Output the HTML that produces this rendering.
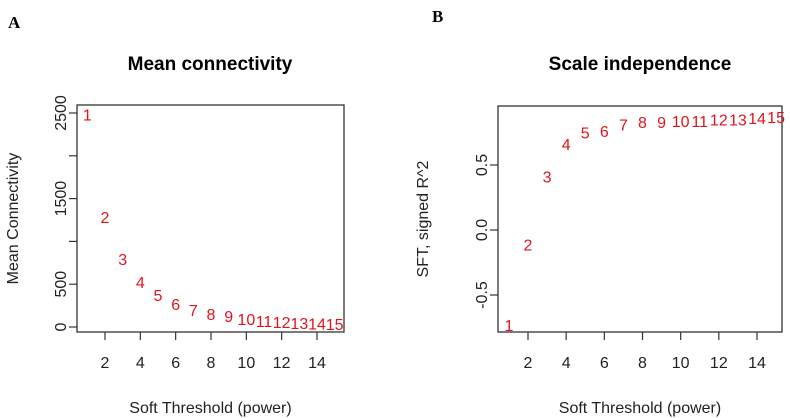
<!DOCTYPE html>
<html><head><meta charset="utf-8"><style>
body{margin:0;background:#fff;}
svg{display:block;font-family:"Liberation Sans",Arial,sans-serif;}
</style></head><body>
<svg id="c" width="790" height="418" viewBox="0 0 790 418"></svg>
<script>
const powers=[1,2,3,4,5,6,7,8,9,10,11,12,13,14,15];
const meanK=[2480,1285,794,525,374,269,199,152,128,93,70,58,47,40,35];
const sftR2=[-0.73,-0.11,0.41,0.66,0.75,0.76,0.81,0.83,0.83,0.84,0.84,0.85,0.85,0.86,0.87];
const xTicks=[2,4,6,8,10,12,14];
const yTicksA=[0,500,1000,1500,2000,2500];
const yLabelsA=["0","500","","1500","","2500"];
const yTicksB=[-0.5,0,0.5];
const yLabelsB=["-0.5","0.0","0.5"];
const NS="http://www.w3.org/2000/svg";
const svg=document.getElementById('c');
function el(t,a,txt){const e=document.createElementNS(NS,t);for(const k in a)e.setAttribute(k,a[k]);if(txt!==undefined)e.textContent=txt;svg.appendChild(e);return e;}
function panel(p){
  const xs=v=>p.x0+(v-2)*(p.x1-p.x0)/12;
  const ys=v=>p.yA+(v-p.vA)*(p.yB-p.yA)/(p.vB-p.vA);
  let e=el('text',{x:p.lx,y:p.ly,'font-family':'Liberation Serif,serif','font-weight':'bold','font-size':17});e.textContent=p.letter;
  
  
  e=el('text',{x:p.tx,y:70,'text-anchor':'middle','font-weight':'bold','font-size':19},p.title);
  
  
  e=el('rect',{x:p.bx0,y:p.by0,width:p.bx1-p.bx0,height:p.by1-p.by0,fill:'none',stroke:'#333','stroke-width':1.3});
  
  
  xTicks.forEach(t=>{
    const x=xs(t);
    let l=el('line',{x1:x,x2:x,y1:p.by1,y2:p.by1+8,stroke:'#333','stroke-width':1.2});
    
    
    let tx=el('text',{x:x,y:368,'text-anchor':'middle','font-size':16,fill:'#222'},t);
    
    
  });
  p.yt.forEach((t,i)=>{
    const y=ys(t);
    let l=el('line',{x1:p.bx0-8,x2:p.bx0,y1:y,y2:y,stroke:'#333','stroke-width':1.2});
    
    
    if(p.yl[i]){
      let tx=el('text',{x:0,y:0,'text-anchor':'middle','font-size':16,fill:'#222',transform:`translate(${p.bx0-11},${y}) rotate(-90)`},p.yl[i]);
      
      
    }
  });
  e=el('text',{x:(p.bx0+p.bx1)/2,y:413,'text-anchor':'middle','font-size':16,fill:'#222'},'Soft Threshold (power)');
  
  
  e=el('text',{x:0,y:0,'text-anchor':'middle','font-size':16,fill:'#222',transform:`translate(${p.ytx},${(p.by0+p.by1)/2}) rotate(-90)`},p.ytitle);
  
  
  powers.forEach((k,i)=>{
    let tx=el('text',{x:xs(k),y:ys(p.vals[i])+6,'text-anchor':'middle','font-size':16,fill:'#e0141e'},k);
    
    
  });
}
panel({letter:'A',lx:8,ly:28,title:'Mean connectivity',tx:210,bx0:77,bx1:344,by0:105,by1:332,x0:105,x1:317,
  yA:327,vA:0,yB:113,vB:2500,yt:yTicksA,yl:yLabelsA,vals:meanK,ytitle:'Mean Connectivity',ytx:18});
panel({letter:'B',lx:432,ly:22,title:'Scale independence',tx:640,bx0:498,bx1:782,by0:106,by1:332,x0:528,x1:757,
  yA:230,vA:0,yB:165,vB:0.5,yt:yTicksB,yl:yLabelsB,vals:sftR2,ytitle:'SFT, signed R^2',ytx:428});
</script>
</body></html>
